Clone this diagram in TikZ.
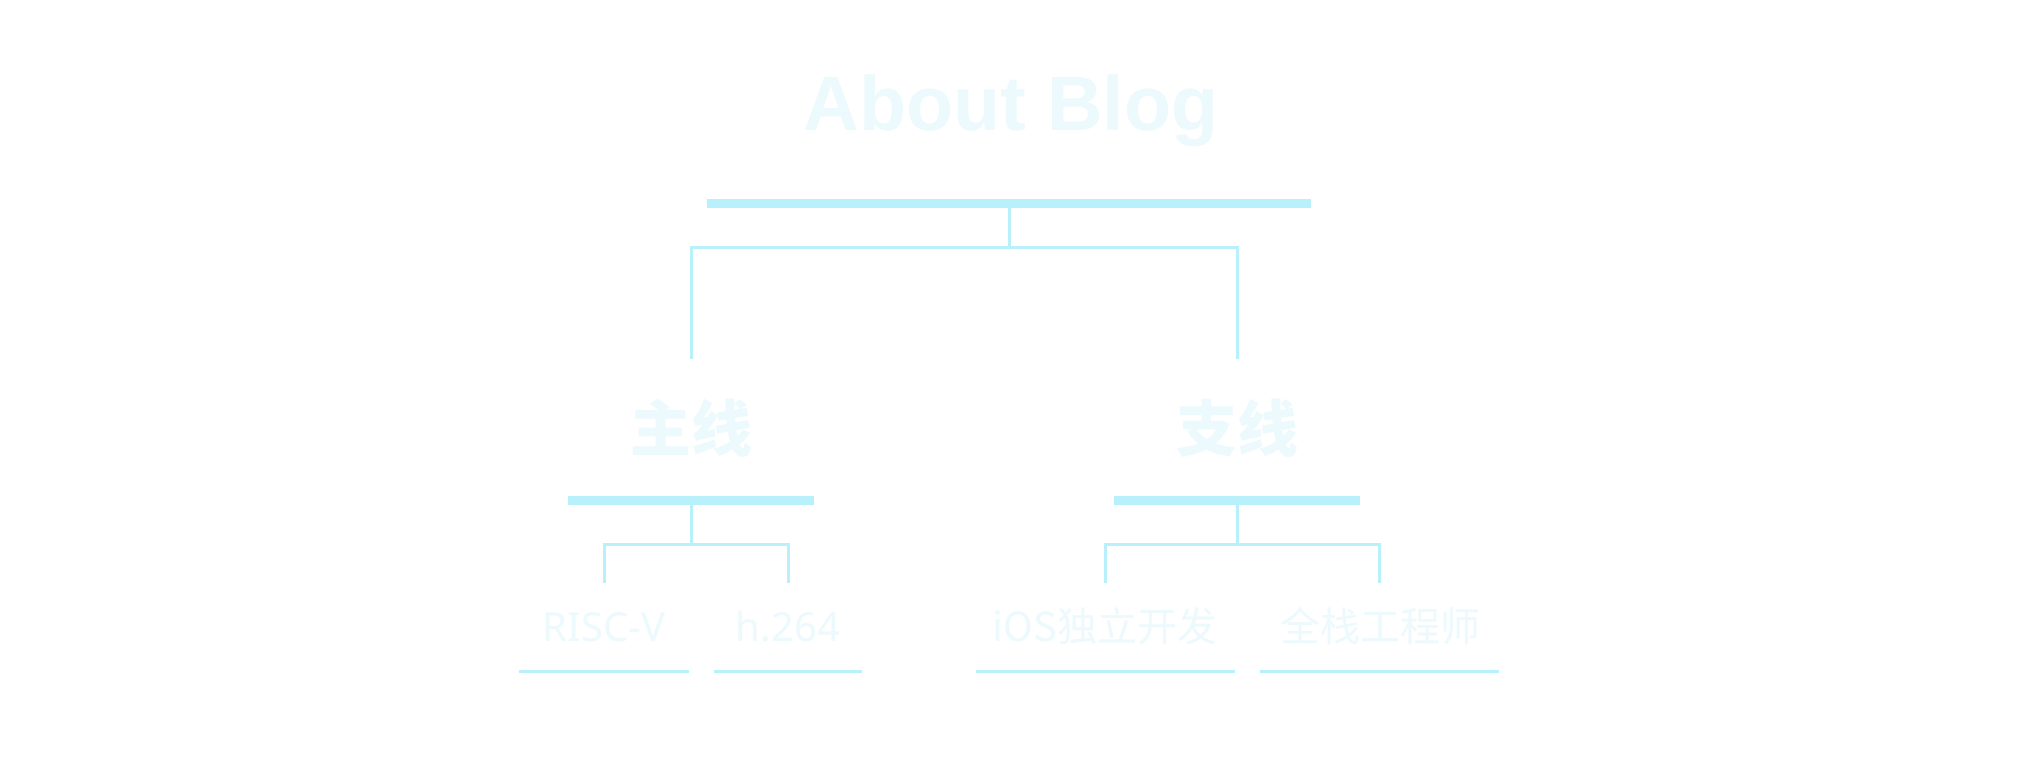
\documentclass[tikz,border=0pt]{standalone}
\usepackage{fontspec}
\setmainfont{Liberation Sans}
\newfontfamily\cjk{Noto Sans CJK SC}
\newfontfamily\leaflatin{Noto Sans}
\usetikzlibrary{calc}
\definecolor{linec}{RGB}{184,241,252}
\definecolor{textc}{RGB}{236,249,253}
\begin{document}
\begin{tikzpicture}[x=1pt,y=-1pt,
  bar/.style={fill=linec, draw=none, inner sep=0pt, minimum height=9pt},
  link/.style={draw=linec, line width=3pt},
  uline/.style={draw=linec, line width=3pt},
  titlestyle/.style={text=textc, inner sep=0pt, font=\fontsize{77}{90}\selectfont\bfseries},
  branch/.style={text=textc, inner sep=0pt, font=\cjk\bfseries\fontsize{61}{70}\selectfont},
  leaf/.style={text=textc, inner sep=0pt, font=\cjk\fontsize{40}{48}\selectfont},
  leaflat/.style={text=textc, inner sep=0pt, font=\leaflatin\fontsize{40}{48}\selectfont}]
\useasboundingbox[fill=white] (0,0) rectangle (2019,766);
% title
\node[titlestyle, anchor=base] (title) at (1011,130) {About Blog};
% top level
\node[bar, minimum width=604pt] (topbar) at (1009,203.5) {};
\coordinate (hub) at (1009,247);
\coordinate (mainEnd) at (691,359);
\coordinate (sideEnd) at (1237,359);
\draw[link] (topbar.south) -- (hub);
\draw[link] (mainEnd) |- (hub) -| (sideEnd);
% branches
\node[branch, anchor=base] (main) at (691.5,451) {主线};
\node[branch, anchor=base] (side) at (1237,451) {支线};
\node[bar, minimum width=246pt] (mainbar) at (691,500.5) {};
\node[bar, minimum width=246pt] (sidebar) at (1237,500.5) {};
\coordinate (mainHub) at (691,544);
\coordinate (sideHub) at (1237,544);
\coordinate (riscEnd) at (604,583);
\coordinate (hEnd) at (788,583);
\coordinate (iosEnd) at (1105,583);
\coordinate (fullEnd) at (1379,583);
\draw[link] (mainbar.south) -- (mainHub);
\draw[link] (riscEnd) |- (mainHub) -| (hEnd);
\draw[link] (sidebar.south) -- (sideHub);
\draw[link] (iosEnd) |- (sideHub) -| (fullEnd);
% leaves
\node[leaflat, anchor=base] (risc) at (604,641) {RISC-V};
\node[leaflat, anchor=base] (hvc) at (788,641) {h.264};
\node[leaf, anchor=base] (ios) at (1105,641) {iOS独立开发};
\node[leaf, anchor=base] (full) at (1380,641) {全栈工程师};
\draw[uline] ($(risc.base)+(-85,30)$) -- ($(risc.base)+(85,30)$);
\draw[uline] ($(hvc.base)+(-74,30)$) -- ($(hvc.base)+(74,30)$);
\draw[uline] ($(ios.base)+(-129.5,30)$) -- ($(ios.base)+(129.5,30)$);
\draw[uline] ($(full.base)+(-120,30)$) -- ($(full.base)+(119,30)$);
\end{tikzpicture}
\end{document}
